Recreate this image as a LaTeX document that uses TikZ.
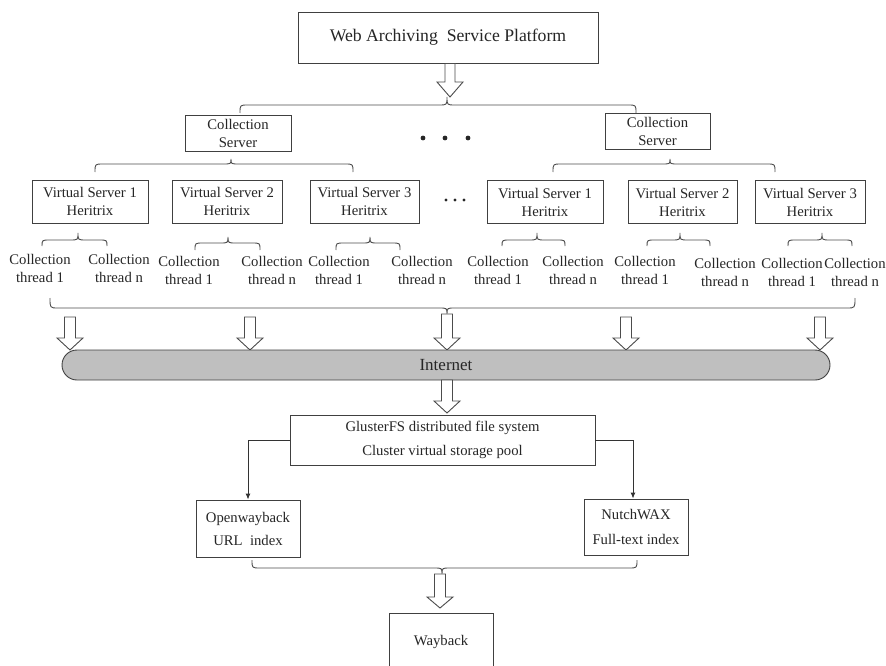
\documentclass[tikz,border=0pt]{standalone}
\usepackage{fontspec}
\setmainfont{Liberation Serif}
\usetikzlibrary{arrows.meta}
\newcommand\mybrace[6]{%
  \draw[brc] (#1,#4) .. controls (#1,#5) .. (#1+8,#5) -- (#3-8,#5)
    .. controls (#3,#5) .. (#3,#6) .. controls (#3,#5) .. (#3+8,#5)
    -- (#2-8,#5) .. controls (#2,#5) .. (#2,#4);}
\newcommand\blockarr[5]{% x, ytop, ytip, head length, shaft half width
  \draw[barr] (#1-#5,#2) -- (#1+#5,#2) -- (#1+#5,#3-#4) -- (#1+13,#3-#4)
    -- (#1,#3) -- (#1-13,#3-#4) -- (#1-#5,#3-#4) -- cycle;}
\tikzset{
  box/.style={draw=black!75, line width=0.9pt, fill=white, inner sep=0pt, align=center,
    text=black!85, font=\fontsize{14.7}{18}\selectfont},
  lbl/.style={inner sep=0pt, align=center, text=black!85, font=\fontsize{14.7}{18}\selectfont},
  brc/.style={draw=black!70, line width=0.9pt},
  barr/.style={draw=black!70, line width=0.9pt, fill=white, line join=miter},
  conn/.style={draw=black!80, line width=0.9pt, -{Latex[length=6pt,width=5pt]}},
  dot/.style={fill=black!85}
}
\begin{document}
\begin{tikzpicture}[x=1pt,y=-1pt]
\useasboundingbox (0,0) rectangle (886,666);
\clip (0,0) rectangle (886,666);
% top
\node[box, minimum width=300pt, minimum height=51pt, font=\fontsize{17.7}{20}\selectfont] (top) at (448,37.5) {Web Archiving\ \ Service Platform};
\blockarr{450}{63.5}{97}{15}{5}
\mybrace{240}{636}{447}{113}{105}{97}
% collection servers
\node[box, minimum width=106pt, minimum height=36pt] (cs1) at (238,133) {Collection\\Server};
\node[box, minimum width=105pt, minimum height=36pt] (cs2) at (657.5,131) {Collection\\Server};
\fill[dot] (423,138) circle (2.4) (445,138) circle (2.4) (468,138) circle (2.4);
\mybrace{95}{353}{231}{172}{164}{159}
\mybrace{553}{775}{670}{172}{164}{159}
% virtual servers
\node[box, minimum width=116pt, minimum height=43pt] (lv1) at (90,201.5) {Virtual Server 1\\Heritrix};
\node[box, minimum width=110pt, minimum height=43pt] (lv2) at (227,201.5) {Virtual Server 2\\Heritrix};
\node[box, minimum width=109pt, minimum height=43pt] (lv3) at (364.5,201.5) {Virtual Server 3\\Heritrix};
\node[box, minimum width=116pt, minimum height=43pt] (rv1) at (545,202) {Virtual Server 1\\Heritrix};
\node[box, minimum width=109pt, minimum height=43pt] (rv2) at (682.5,202) {Virtual Server 2\\Heritrix};
\node[box, minimum width=110pt, minimum height=43pt] (rv3) at (810,202) {Virtual Server 3\\Heritrix};
\fill[dot] (446,200) circle (1.7) (455,200) circle (1.7) (464,200) circle (1.7);
% small braces
\mybrace{42}{107}{78}{246}{240}{233}
\mybrace{195}{260}{228}{250}{243}{237}
\mybrace{336}{400}{370}{250}{243}{237}
\mybrace{502}{565}{537}{246}{240}{233}
\mybrace{647}{710}{680}{246}{240}{233}
\mybrace{788}{852}{822}{246}{240}{233}
% threads
\node[lbl] (t11) at (40,268) {Collection\\thread 1};
\node[lbl] (t1n) at (119,268) {Collection\\thread n};
\node[lbl] (t21) at (189,270.5) {Collection\\thread 1};
\node[lbl] (t2n) at (272,270.5) {Collection\\thread n};
\node[lbl] (t31) at (339,270.5) {Collection\\thread 1};
\node[lbl] (t3n) at (422,270.5) {Collection\\thread n};
\node[lbl] (t41) at (498,270) {Collection\\thread 1};
\node[lbl] (t4n) at (573,270) {Collection\\thread n};
\node[lbl] (t51) at (645,270) {Collection\\thread 1};
\node[lbl] (t5n) at (725,272) {Collection\\thread n};
\node[lbl] (t61) at (792,272) {Collection\\thread 1};
\node[lbl] (t6n) at (855,272) {Collection\\thread n};
% big brace
\mybrace{50}{855}{447}{298}{308}{314}
% arrows to internet
\blockarr{70}{317}{350}{12}{5.5}
\blockarr{250}{317}{350}{12}{5.5}
\blockarr{447}{314}{350}{12}{5.5}
\blockarr{626}{317}{350}{12}{5.5}
\blockarr{820}{317}{350}{12}{5.5}
% internet
\node[draw=black!75, line width=0.9pt, fill=black!25, rounded corners=15pt, minimum width=768pt, minimum height=30pt, inner sep=0pt, text=black!85, font=\fontsize{17}{20}\selectfont] (net) at (446,365) {Internet};
\blockarr{447}{380}{413}{12}{5.5}
% storage
\node[box, minimum width=305pt, minimum height=50pt, font=\fontsize{14.7}{24}\selectfont] (gfs) at (442.5,440) {GlusterFS distributed file system\\Cluster virtual storage pool};
\node[box, minimum width=104pt, minimum height=57pt, font=\fontsize{14.7}{23}\selectfont] (ow) at (248,528.5) {Openwayback\\URL\ \ index};
\node[box, minimum width=104pt, minimum height=56pt, font=\fontsize{14.7}{25}\selectfont] (nw) at (636,527) {NutchWAX\\Full-text index};
\draw[conn] (gfs.west) -| (ow.north);
\draw[conn] ([xshift=0pt]gfs.east) -| ([xshift=-3pt]nw.north);
\mybrace{252}{637}{442}{560}{568}{574}
\blockarr{440}{574}{608}{11}{5.5}
\node[box, minimum width=104pt, minimum height=58pt] (wb) at (441,642) {Wayback};
\end{tikzpicture}
\end{document}
